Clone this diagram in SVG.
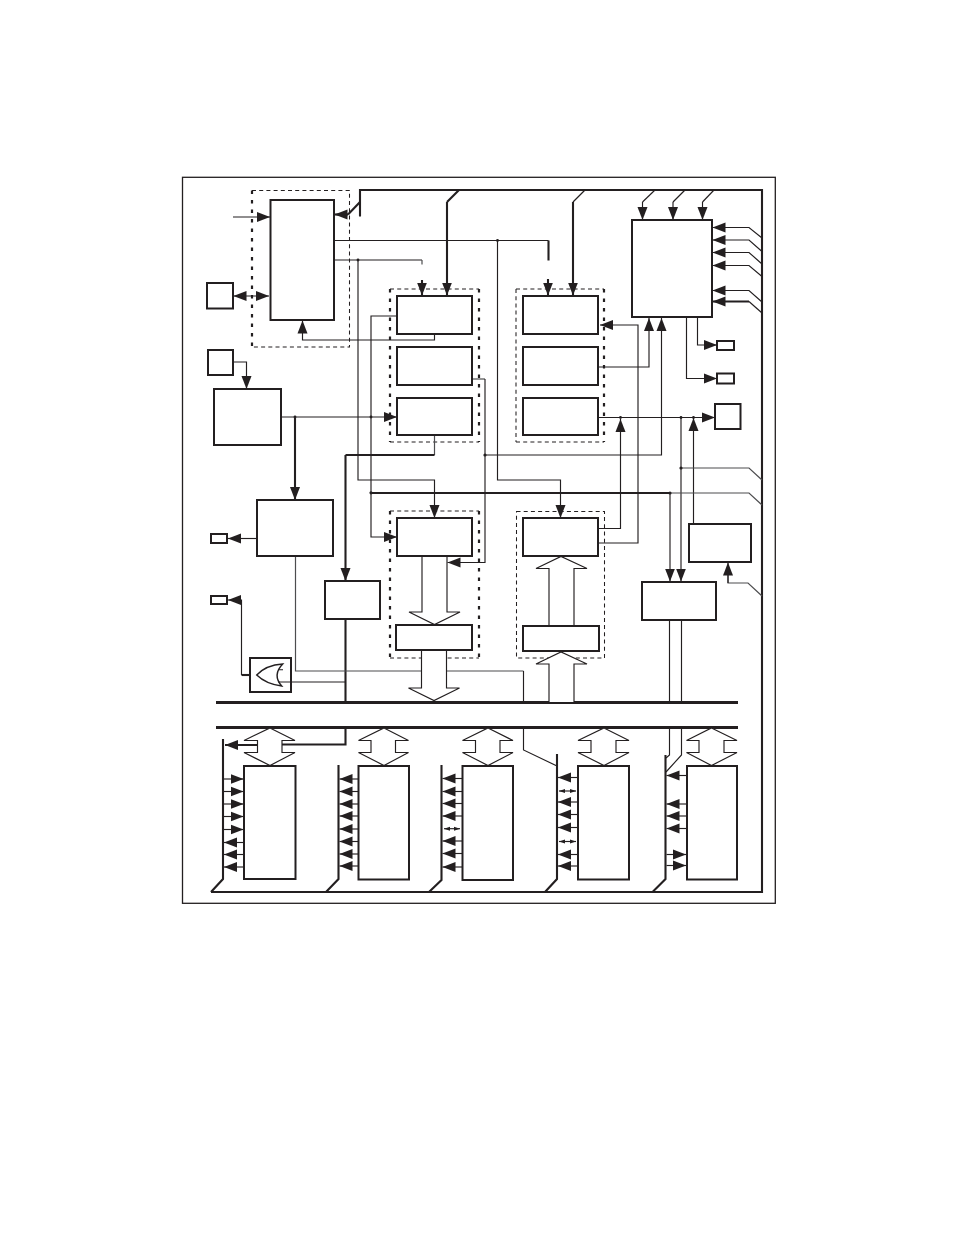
<svg xmlns="http://www.w3.org/2000/svg" width="954" height="1235" viewBox="0 0 954 1235">
<style>
.b{fill:#fff;stroke:#231f20;stroke-width:2}
.l{fill:none;stroke:#231f20;stroke-width:1.15}
.g{fill:none;stroke:#4d4d4f;stroke-width:1.2}
.m{fill:none;stroke:#231f20;stroke-width:2.1}
.h{fill:none;stroke:#231f20;stroke-width:3}
.a{marker-end:url(#ah)}
.s{marker-start:url(#ahr);marker-end:url(#ah)}
.t{marker-start:url(#tr);marker-end:url(#t)}
.dt{fill:none;stroke:#231f20;stroke-width:1.05;stroke-dasharray:4 3.2}
.dk{fill:none;stroke:#231f20;stroke-width:2.2;stroke-dasharray:3.5 6}
.f{fill:#fff;stroke:#231f20;stroke-width:1.15}
.d{fill:#231f20}
</style>
<defs>
<marker id="ah" markerUnits="userSpaceOnUse" markerWidth="14" markerHeight="11" refX="13" refY="5.5" orient="auto"><path d="M0,.5L13,5.5L0,10.5Z" fill="#231f20"/></marker>
<marker id="ahr" markerUnits="userSpaceOnUse" markerWidth="14" markerHeight="11" refX="0" refY="5.5" orient="auto"><path d="M13,.5L0,5.5L13,10.5Z" fill="#231f20"/></marker>
<marker id="t" markerUnits="userSpaceOnUse" markerWidth="7" markerHeight="5" refX="6" refY="2.5" orient="auto"><path d="M0,.5L6,2.5L0,4.5Z" fill="#231f20"/></marker>
<marker id="tr" markerUnits="userSpaceOnUse" markerWidth="7" markerHeight="5" refX="0" refY="2.5" orient="auto"><path d="M6,.5L0,2.5L6,4.5Z" fill="#231f20"/></marker>
</defs>
<rect width="954" height="1235" fill="#fff"/>
<rect id="frame" x="182.5" y="177.3" width="592.8" height="726" fill="none" stroke="#231f20" stroke-width="1.3"/>

<g id="containers">
<g id="dash-a"><path class="dt" d="M252,190.5H349.5V347H252"/><path class="dk" d="M252,190.5V347"/></g>
<g id="dash-b"><path class="dt" d="M390,289H479M390,442H479"/><path class="dk" d="M390,289V442M479,289V442"/></g>
<g id="dash-c"><path class="dt" d="M516,289H604M516,442H604M516,289V442"/><path class="dk" d="M604,289V442"/></g>
<g id="dash-d"><path class="dt" d="M390,511H479M390,658H479"/><path class="dk" d="M390,511V658M479,511V658"/></g>
<g id="dash-e"><path class="dt" d="M516.5,511.5H604.5V658H516.5Z"/></g>
</g>

<g id="connectors">
<path class="m" d="M360,216.5V190H762V892H211"/>
<path class="h" d="M216,702.5H738M216,727.5H738"/>
<path class="m" d="M360,202L348,214.5"/>
<path class="m a" d="M348,214.5H334.5"/>
<path class="m" d="M459,190L447,202"/>
<path class="m a" d="M447,202V295.5"/>
<path class="l" d="M585,190L573,202"/>
<path class="m a" d="M573,202V295.5"/>
<path class="l" d="M655,190L642.5,202"/>
<path class="l a" d="M642.5,202V220"/>
<path class="l" d="M685,190L673,202"/>
<path class="l a" d="M673,202V220"/>
<path class="l" d="M714,190L702.5,202"/>
<path class="l a" d="M702.5,202V220"/>
<path class="l a" d="M762,238L749,227.5H712.5"/>
<path class="l a" d="M762,251.5L749,240H712.5"/>
<path class="l a" d="M762,264L749,252.5H712.5"/>
<path class="l a" d="M762,276.5L749,265.5H712.5"/>
<path class="l a" d="M762,302L749,290.5H712.5"/>
<path class="l" d="M762,313L749,301.5"/>
<path class="m a" d="M749,301.5H712.5"/>
<path class="l a" d="M233,217H270"/>
<path class="l s" d="M233.5,296H269"/>
<path class="l a" d="M434.5,334V340H302.5V320.5"/>
<path class="l" d="M334,240.5H548.5"/>
<path class="m" d="M548.5,240.5V260.5"/>
<path class="m a" d="M548,279V295.5"/>
<path class="l" d="M334,260H422"/>
<path class="g" d="M422,260V264.5"/>
<path class="m a" d="M422,280V295.5"/>
<path class="l a" d="M497.5,240.5V480H560.5V518"/>
<path class="l a" d="M358,260V480H434.5V518"/>
<path class="l a" d="M397,316H371V537H397"/>
<path class="l a" d="M233,362H246.5V389"/>
<path class="l a" d="M281,417H397"/>
<path class="m a" d="M295,417V500"/>
<path class="g" d="M434.5,435V455"/>
<path class="m" d="M434.5,455H345.5"/>
<path class="m a" d="M345.5,455V581"/>
<path class="m" d="M345.5,619V702"/>
<path class="l a" d="M257,538.5H228"/>
<path class="g" d="M472,379H485"/>
<path class="l a" d="M485,379V562.5H447.5"/>
<path class="l a" d="M485,455H661.5V318"/>
<path class="l a" d="M598,367H649V318"/>
<path class="l a" d="M598,543H638V325H600"/>
<path class="l a" d="M598,528.5H620.5V419"/>
<path class="l a" d="M598,417.5H715"/>
<path class="l a" d="M697.5,317V345H717"/>
<path class="l a" d="M686.5,317V378.5H717"/>
<path class="l a" d="M681,417.5V581.5"/>
<path class="l a" d="M693.5,524V418"/>
<path class="g" d="M681,468H749L762,480"/>
<path class="m" d="M371,493H670"/>
<path class="g" d="M670,493H749L762,505"/>
<path class="l a" d="M670,493V581.5"/>
<path class="g" d="M728,575V583H748L762,596"/>
<path class="l a" d="M728,583V562.5"/>
<path class="l" d="M669.5,620V702M681.5,620V702"/>
<path class="l" d="M669.5,727V755L666,758"/>
<path class="l" d="M681.5,727V755L666,772"/>
<path class="g" d="M295.5,556V671H421"/>
<path class="g" d="M446,671H523.5"/>
<path class="l" d="M523.5,671V702"/>
<path class="l" d="M523.5,727V750L557,766"/>
<path class="l a" d="M241.5,675V600H228"/>
<path class="m" d="M241.5,675H250"/>
<path class="l" d="M250,675H256.7"/>
<path class="l" d="M278,682H345.5"/>
<path class="f" d="M422,556V612H409L434.5,624.5L460,612H447V556"/>
<path class="f" d="M421.5,650V688H408.5L434,700.5L459.5,688H446.5V650"/>
<path class="f" d="M549,625.5V568.5H536L561,556.5L587,568.5H574V625.5"/>
<path class="f" d="M549,702V664H536L561,652L587,664H574V702"/>
<path class="f" d="M270,728L295,740.5H282V752.5H295L270,765.5L244,752.5H257.5V740.5H244Z"/>
<path class="f" d="M384,728L408.5,740.5H395.5V752.5H408.5L384,765.5L358.5,752.5H371V740.5H358.5Z"/>
<path class="f" d="M488,728L513,740.5H500V752.5H513L488,765.5L462.5,752.5H475.5V740.5H462.5Z"/>
<path class="f" d="M604,728L629,740.5H616V752.5H629L604,765.5L578,752.5H591V740.5H578Z"/>
<path class="f" d="M711.5,728L737,740.5H724V752.5H737L711.5,765.5L686.5,752.5H699V740.5H686.5Z"/>
<path class="m" d="M282,744.5H345.5V727"/>
<path class="m a" d="M257.5,745H225"/>
<path class="m" d="M223,739V879L211,892"/>
<path class="m" d="M338.5,765V879L326,892"/>
<path class="m" d="M441.5,765V880L429,892"/>
<path class="m" d="M557,754V879L545,892"/>
<path class="m" d="M665.5,755V879L652.5,892"/>
<path class="l a" d="M224,779H243.5"/><path class="l a" d="M224,791.5H243.5"/><path class="l a" d="M224,804H243.5"/><path class="l a" d="M224,816.5H243.5"/><path class="l a" d="M224,829.5H243.5"/>
<path class="l a" d="M243.5,842.5H224"/><path class="l a" d="M243.5,854.5H224"/><path class="l a" d="M243.5,867H224"/>
<path class="l a" d="M358.5,779H339.5"/><path class="l a" d="M358.5,791.5H339.5"/><path class="l a" d="M358.5,804H339.5"/><path class="l a" d="M358.5,816H339.5"/><path class="l a" d="M358.5,829H339.5"/><path class="l a" d="M358.5,841.5H339.5"/><path class="l a" d="M358.5,854H339.5"/><path class="l a" d="M358.5,866H339.5"/>
<path class="l a" d="M462.5,778.5H442.5"/><path class="l a" d="M462.5,791.5H442.5"/><path class="l a" d="M462.5,803.5H442.5"/><path class="l a" d="M462.5,816H442.5"/><path class="l t" d="M444,828.7H460"/><path class="l a" d="M462.5,841H442.5"/><path class="l a" d="M462.5,853.5H442.5"/><path class="l a" d="M462.5,867H442.5"/>
<path class="l a" d="M578,777.5H558"/><path class="l t" d="M559,791H576"/><path class="l a" d="M578,802H558"/><path class="l a" d="M578,814.5H558"/><path class="l a" d="M578,827.5H558"/><path class="l t" d="M559,841.5H576"/><path class="l a" d="M578,854.5H558"/><path class="l a" d="M578,866H558"/>
<path class="l a" d="M686.5,775.5H666.5"/><path class="l a" d="M686.5,804H666.5"/><path class="l a" d="M686.5,816H666.5"/><path class="l a" d="M686.5,828.5H666.5"/><path class="l a" d="M666.5,854.5H686"/><path class="l a" d="M666.5,865.5H686"/>
<g class="d">
<circle cx="497.5" cy="240.5" r="1.4"/><circle cx="358" cy="260" r="1.4"/><circle cx="295" cy="417" r="1.4"/><circle cx="371" cy="417" r="1.4"/><circle cx="371" cy="492.8" r="1.6"/><circle cx="485" cy="455" r="1.6"/><circle cx="620.5" cy="417.5" r="1.4"/><circle cx="681" cy="417.5" r="1.4"/><circle cx="693.5" cy="417.5" r="1.4"/><circle cx="681" cy="468" r="1.6"/><circle cx="670" cy="493" r="1.6"/>
</g>
</g>

<g id="node-ctrl"><rect class="b" x="270.5" y="200" width="63.5" height="120"/></g>
<g id="node-pin1"><rect class="b" x="207" y="283" width="26" height="25.5"/></g>
<g id="node-pin2"><rect class="b" x="208" y="350" width="25" height="25"/></g>
<g id="node-clock"><rect class="b" x="214" y="389" width="67" height="56"/></g>
<g id="node-b1"><rect class="b" x="397" y="296" width="75" height="38"/></g>
<g id="node-b2"><rect class="b" x="397" y="347" width="75" height="38"/></g>
<g id="node-b3"><rect class="b" x="397" y="398" width="75" height="37"/></g>
<g id="node-c1"><rect class="b" x="523" y="296" width="75" height="38"/></g>
<g id="node-c2"><rect class="b" x="523" y="347" width="75" height="38"/></g>
<g id="node-c3"><rect class="b" x="523" y="398" width="75" height="37"/></g>
<g id="node-right"><rect class="b" x="632" y="220" width="80" height="97"/></g>
<g id="node-out1"><rect class="b" x="717" y="341" width="17" height="9"/></g>
<g id="node-out2"><rect class="b" x="717" y="373.5" width="17" height="10"/></g>
<g id="node-h"><rect class="b" x="715" y="404" width="25.5" height="25"/></g>
<g id="node-g"><rect class="b" x="257" y="500" width="76" height="56"/></g>
<g id="node-out3"><rect class="b" x="211" y="534" width="16" height="9"/></g>
<g id="node-out4"><rect class="b" x="211" y="596" width="16" height="8"/></g>
<g id="node-d"><rect class="b" x="325" y="581" width="55" height="38"/></g>
<g id="node-b4"><rect class="b" x="397" y="518" width="75" height="38"/></g>
<g id="node-b5"><rect class="b" x="396" y="625" width="76" height="25"/></g>
<g id="node-c4"><rect class="b" x="523" y="518" width="75" height="38"/></g>
<g id="node-c5"><rect class="b" x="523" y="626" width="76" height="25"/></g>
<g id="node-e"><rect class="b" x="689" y="524" width="62" height="38"/></g>
<g id="node-f"><rect class="b" x="642" y="582" width="74" height="38"/></g>
<g id="node-gate"><rect class="b" x="250" y="658" width="41" height="34"/><path d="M256.7,675Q266,665 282.7,664Q272,675 281.7,686Q266,684 256.7,675Z" fill="none" stroke="#231f20" stroke-width="1.4"/><path class="l" d="M278,682H291M278.5,669.7H283"/></g>
<g id="node-k1"><rect class="b" x="244" y="766" width="51.5" height="113"/></g>
<g id="node-k2"><rect class="b" x="358.5" y="766" width="50.5" height="113.5"/></g>
<g id="node-k3"><rect class="b" x="462.5" y="766" width="50.5" height="114"/></g>
<g id="node-k4"><rect class="b" x="578" y="766" width="51" height="113.5"/></g>
<g id="node-k5"><rect class="b" x="687" y="766" width="50" height="113.5"/></g>
</svg>
